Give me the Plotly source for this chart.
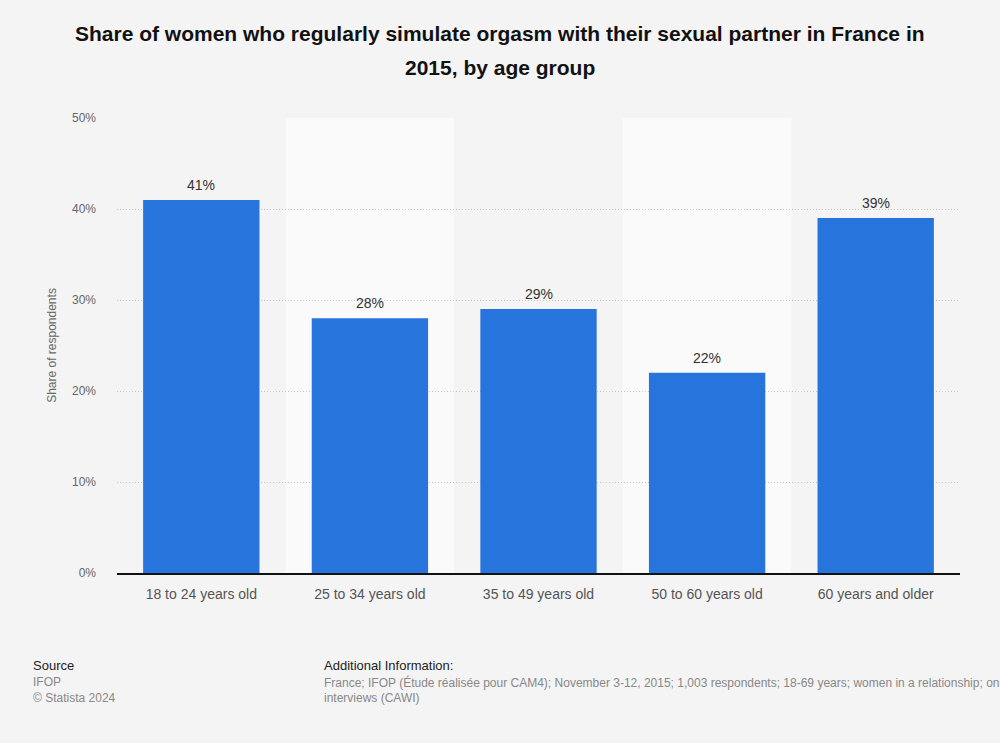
import plotly.graph_objects as go

categories = ["18 to 24 years old", "25 to 34 years old", "35 to 49 years old",
              "50 to 60 years old", "60 years and older"]
values = [41, 28, 29, 22, 39]
labels = ["41%", "28%", "29%", "22%", "39%"]
tick_vals = [0, 10, 20, 30, 40, 50]
tick_text = ["0%", "10%", "20%", "30%", "40%", "50%"]

FONT = "Liberation Sans, Arial, sans-serif"
W, H = 1000, 743
ML, MR, MT, MB = 117, 40, 118, 170
plot_w = W - ML - MR
plot_h = H - MT - MB


def px_x(px):
    return (px - ML) / plot_w


def px_y(py):
    return (H - MB - py) / plot_h


fig = go.Figure()
fig.add_trace(go.Bar(
    x=categories, y=values,
    marker=dict(color="#2775dc", line=dict(width=0)),
    hoverinfo="skip",
))

shapes = []
for i in range(len(categories)):
    if i % 2 == 1:
        shapes.append(dict(type="rect", xref="x", yref="paper",
                           x0=i - 0.5, x1=i + 0.5, y0=0, y1=1,
                           fillcolor="#fafafa", line=dict(width=0), layer="below"))

annotations = []
# value labels
for c, v, t in zip(categories, values, labels):
    annotations.append(dict(
        x=c, y=v, xref="x", yref="y", text=t, showarrow=False,
        yanchor="bottom", yshift=5,
        font=dict(size=14, color="#333333", family=FONT),
    ))

# title lines
title_lines = ["Share of women who regularly simulate orgasm with their sexual partner in France in",
               "2015, by age group"]
for line, py in zip(title_lines, [33, 68]):
    annotations.append(dict(
        text="<b>" + line + "</b>", showarrow=False, xref="paper", yref="paper",
        x=px_x(500), y=px_y(py), xanchor="center", yanchor="middle",
        font=dict(size=21, color="#111111", family=FONT),
    ))

footer = [
    dict(text="Source", px=31, py=665, size=13, color="#222222"),
    dict(text="IFOP", px=31, py=682, size=12, color="#888888"),
    dict(text="© Statista 2024", px=31, py=698, size=12, color="#888888"),
    dict(text="Additional Information:", px=322, py=665, size=13, color="#222222"),
    dict(text="France; IFOP (Étude réalisée pour CAM4); November 3-12, 2015; 1,003 respondents; 18-69 years; women in a relationship; online",
         px=322, py=682, size=12, color="#888888"),
    dict(text="interviews (CAWI)", px=322, py=698, size=12, color="#888888"),
]
for a in footer:
    annotations.append(dict(
        text=a["text"], showarrow=False, xref="paper", yref="paper",
        x=px_x(a["px"]), y=px_y(a["py"]),
        xanchor="left", yanchor="middle", align="left",
        font=dict(size=a["size"], color=a["color"], family=FONT),
    ))

fig.update_layout(
    width=W, height=H,
    paper_bgcolor="#f4f4f4", plot_bgcolor="#f4f4f4",
    margin=dict(l=ML, r=MR, t=MT, b=MB),
    bargap=0.31,
    showlegend=False,
    shapes=shapes,
    annotations=annotations,
    xaxis=dict(
        showgrid=False, showline=True, linecolor="#111111", linewidth=1.5,
        ticks="", tickfont=dict(size=14, color="#555555", family=FONT),
        ticklabelstandoff=7,
        range=[-0.5, 4.5],
    ),
    yaxis=dict(
        range=[0, 50], tickvals=tick_vals, ticktext=tick_text,
        showgrid=True, gridcolor="#c8c8c8", griddash="1px,2px", gridwidth=1,
        zeroline=False, showline=False, ticks="",
        tickfont=dict(size=12, color="#666666", family=FONT),
        ticklabelstandoff=20,
        title=dict(text="Share of respondents", font=dict(size=12, color="#666666", family=FONT),
                   standoff=12),
    ),
)

fig.write_html("out.html", config={"displayModeBar": False},
               post_script="document.body.style.margin='0';")
